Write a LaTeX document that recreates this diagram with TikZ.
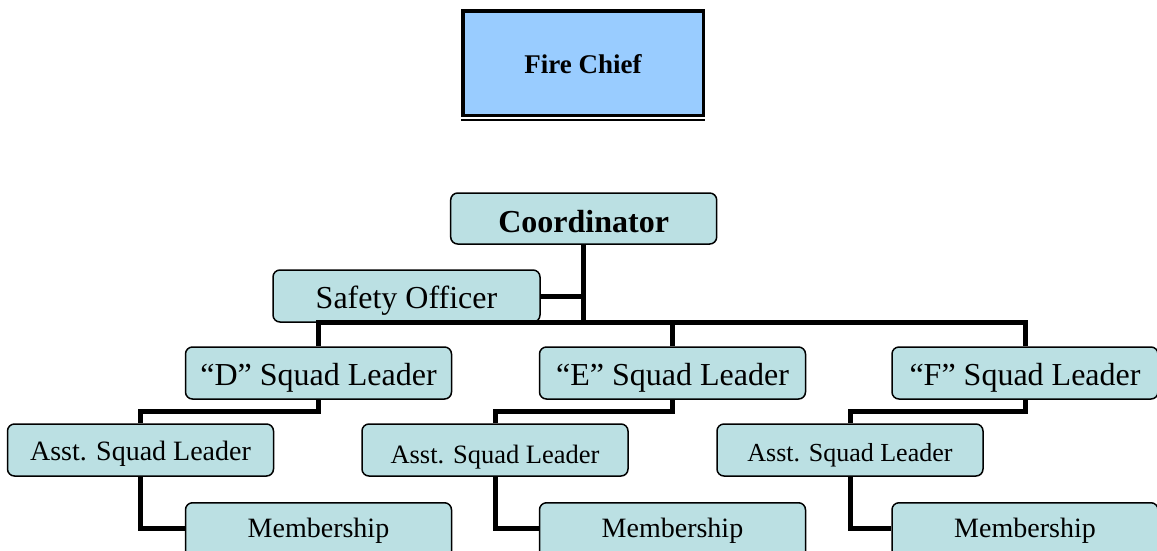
\documentclass[tikz,border=0pt]{standalone}
\usepackage{fontspec}
\setmainfont{Liberation Serif}
\definecolor{boxfill}{HTML}{BBE0E3}
\definecolor{chieffill}{HTML}{99CCFF}
\begin{document}
\begin{tikzpicture}[x=1pt,y=-1pt,
  unit/.style={draw=black, line width=1.5pt, fill=boxfill, rounded corners=7pt, inner sep=0pt,
    minimum width=266pt, text height=38pt, text depth=14pt, font=\fontsize{32}{36}\selectfont},
  asst/.style={unit, font=\fontsize{28}{32}\selectfont},
  member/.style={unit, anchor=north, text height=35pt, text depth=36pt,
    font=\fontsize{28}{32}\selectfont},
  link/.style={draw=black, line width=5pt}]
\useasboundingbox (0,0) rectangle (1157,550);
\clip (0,0) rectangle (1157,550);
\fill[white] (0,0) rectangle (1157,550);

% Fire Chief
\node[draw=black, line width=3.5pt, fill=chieffill, minimum width=240.5pt,
  text height=63pt, text depth=41.5pt,
  inner sep=0pt, font=\fontsize{27}{30}\selectfont\bfseries] (chief) at (583,63) {Fire Chief};
\draw[line width=2pt] ([yshift=-2.6pt]chief.south west) -- ([yshift=-2.6pt]chief.south east);

% Nodes
\node[unit, font=\fontsize{32}{36}\selectfont\bfseries, text height=39pt, text depth=12pt] (coord) at (583.7,218.5) {Coordinator};
\node[unit, minimum width=267pt] (safety) at (406.5,296) {Safety Officer};

\node[unit] (dL) at (318.5,373) {``D'' Squad Leader};
\node[unit] (eL) at (672.5,373) {``E'' Squad Leader};
\node[unit] (fL) at (1025,373) {``F'' Squad Leader};

\node[asst, text height=36pt, text depth=16pt] (dA) at (140.5,450) {Asst. Squad Leader};
\node[asst, font=\fontsize{26.5}{30}\selectfont, text height=39pt, text depth=13pt] (eA) at (495,450) {Asst. Squad Leader};
\node[asst, font=\fontsize{26}{30}\selectfont, text height=37pt, text depth=15pt] (fA) at (850,450) {Asst. Squad Leader};

\node[member] (dM) at (318.5,502) {Membership};
\node[member] (eM) at (672.5,502) {Membership};
\node[member] (fM) at (1025,502) {Membership};

% Connectors
\draw[link] (coord.south) -- (coord.south |- safety.south);
\draw[link] (safety.east) -- (safety.east -| coord.south);
\draw[link] (dL.north) -- (dL.north |- safety.south) -- (fL.north |- safety.south) -- (fL.north);
\draw[link] (eL.north) -- (eL.north |- safety.south);

\draw[link] (dL.south) -- ++(0,12) -| (dA.north);
\draw[link] (eL.south) -- ++(0,12) -| (eA.north);
\draw[link] (fL.south) -- ++(0,12) -| (fA.north);

\draw[link] (dA.south) |- ([yshift=-26pt]dM.north west);
\draw[link] (eA.south) |- ([yshift=-26pt]eM.north west);
\draw[link] (fA.south) |- ([yshift=-26pt]fM.north west);
\end{tikzpicture}
\end{document}
